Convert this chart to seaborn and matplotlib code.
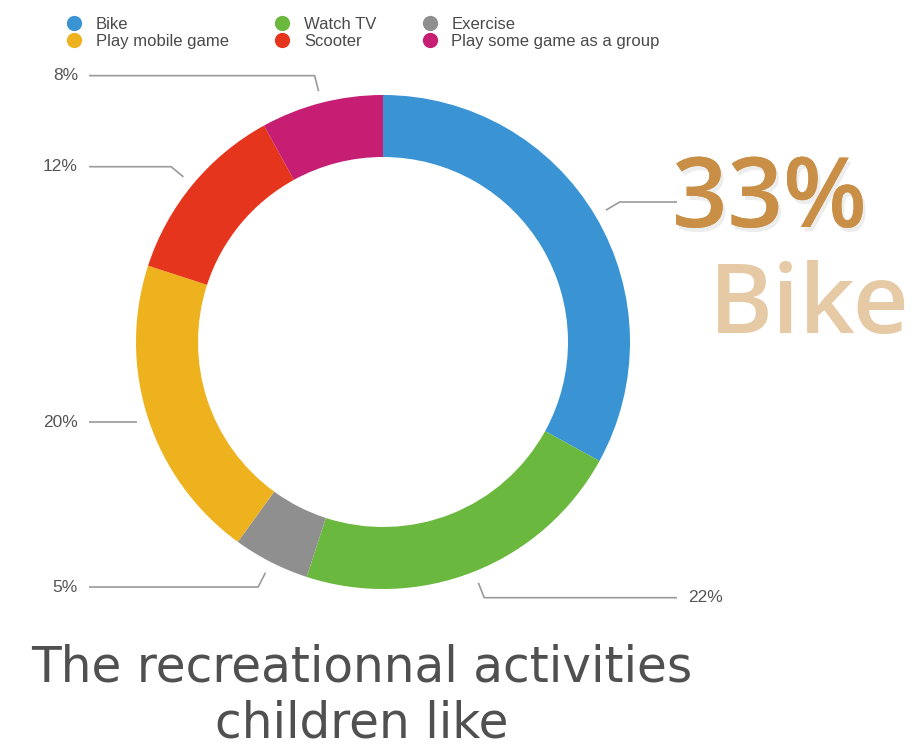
import numpy as np
import matplotlib
matplotlib.use("Agg")
import matplotlib.pyplot as plt
import matplotlib.patheffects as pe
from matplotlib.lines import Line2D
import seaborn as sns

# data
activities = ["Bike", "Watch TV", "Exercise", "Play mobile game",
              "Scooter", "Play some game as a group"]
shares = [33, 22, 5, 20, 12, 8]
colors = ["#3A94D4", "#6BB83E", "#8F8F8F", "#EDB21E", "#E5351D", "#C51E72"]
title_lines = ["The recreationnal activities", "children like"]

sns.set_theme(style="white")
plt.rcParams["font.family"] = ["Liberation Sans", "DejaVu Sans"]

fig = plt.figure(figsize=(9.17, 7.49), dpi=100)
ax = fig.add_axes([0, 0, 1, 1])

cx, cy, R = 383, 342, 247
palette = sns.color_palette(colors)

# y gets flipped below, so counterclock=True runs clockwise on screen
wedges, _ = ax.pie(shares, colors=palette, startangle=-90, counterclock=True,
                   center=(cx, cy), radius=R, frame=True,
                   wedgeprops=dict(width=62, linewidth=0))
ax.set_xlim(0, 917)
ax.set_ylim(749, 0)  # pixel-like coordinates, y down
ax.set_axis_off()

# leader lines and labels
line_col = "#9A9A9A"
for w, s, name in zip(wedges, shares, activities):
    mid = np.deg2rad((w.theta1 + w.theta2) / 2)
    c, sn = np.cos(mid), np.sin(mid)
    ax0, ay0 = cx + (R + 12) * c, cy + (R + 12) * sn
    if abs(sn) < 0.4:
        ex, ey = ax0, ay0
    else:
        ex, ey = cx + (R + 28) * c, cy + (R + 28) * sn
    xend = 89 if c < 0 else 677
    ax.plot([ax0, ex, xend], [ay0, ey, ey], color=line_col, lw=1.2,
            solid_capstyle="butt")
    if name == "Bike":
        ax.text(xend - 5, ey, f"{s}%", ha="left", va="center",
                fontsize=70, color="#C98F47", family=["Open Sans", "DejaVu Sans"],
                fontweight="semibold",
                path_effects=[pe.withSimplePatchShadow(offset=(2, -3), alpha=0.15,
                                                       shadow_rgbFace="#888888"),
                              pe.Normal()])
        ax.text(910, 333, name, ha="right", va="baseline", fontsize=70,
                color="#E6CAA6", family=["Open Sans", "DejaVu Sans"],
                fontweight="semibold")
    elif c < 0:
        ax.text(xend - 11, ey, f"{s}%", ha="right", va="center",
                fontsize=12.5, color="#555555")
    else:
        ax.text(xend + 11, ey, f"{s}%", ha="left", va="center",
                fontsize=12.5, color="#555555")

# legend, filled column by column
order = [0, 3, 1, 4, 2, 5]
handles = [Line2D([], [], marker="o", linestyle="none", markersize=11,
                  markerfacecolor=palette[i], markeredgewidth=0) for i in order]
ax.legend(handles, [activities[i] for i in order], ncol=3, frameon=False,
          loc="upper left", bbox_to_anchor=(66 / 917, 1 - 17 / 749),
          fontsize=12, handlelength=1.0, handletextpad=0.8,
          columnspacing=2.7, labelspacing=0.1, borderpad=0,
          borderaxespad=0, labelcolor="#4A4A4A")

# title below the ring
ax.text(362, 682, title_lines[0], ha="center", va="baseline", fontsize=35,
        color="#505050", family=["DejaVu Sans"])
ax.text(362, 737, title_lines[1], ha="center", va="baseline", fontsize=35,
        color="#505050", family=["DejaVu Sans"])

fig.savefig("out.png", dpi=100, facecolor="white")
plt.close(fig)
